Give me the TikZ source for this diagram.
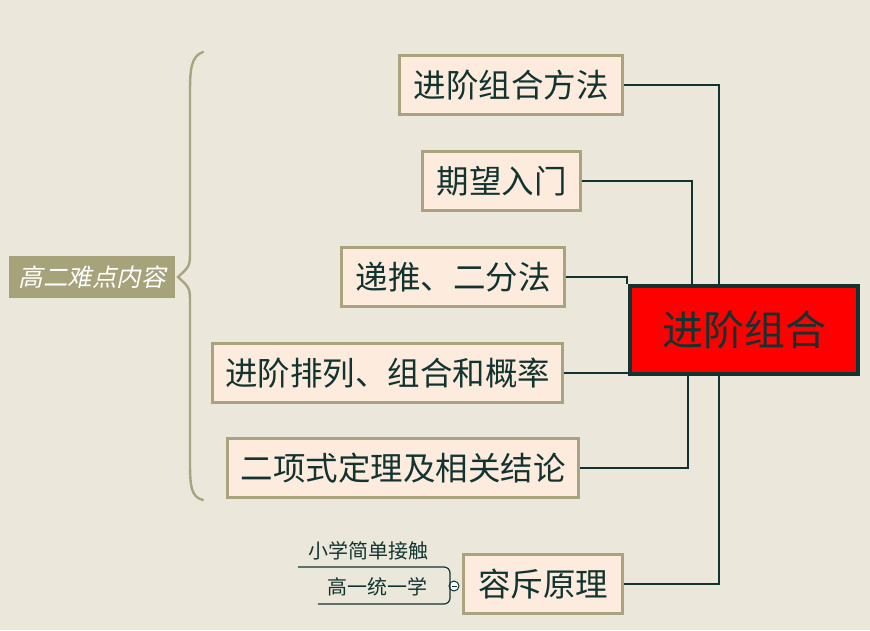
\documentclass[tikz,border=0pt]{standalone}
\usepackage{fontspec}
\newfontfamily\cjk{Noto Sans CJK SC}
\newfontfamily\cjkit[FakeSlant=0.22]{Noto Sans CJK SC}
\usetikzlibrary{calc,positioning}
\definecolor{paper}{HTML}{EBE8DB}
\definecolor{ink}{HTML}{123431}
\definecolor{tan}{HTML}{A9A47E}
\definecolor{peach}{HTML}{FDEBDD}
\definecolor{olive}{HTML}{A6A27A}

\begin{document}
\begin{tikzpicture}[x=1pt, y=-1pt,
  topic/.style={draw=tan, fill=peach, line width=3pt, text=ink, minimum height=59pt, inner sep=0pt, font=\cjk\fontsize{32.5}{32.5}\selectfont},
  root/.style={draw=ink, fill=red, line width=4pt, text=ink, minimum width=228pt, minimum height=88pt, inner sep=0pt, font=\cjk\fontsize{41}{41}\selectfont},
  link/.style={draw=ink, line width=2pt},
  note/.style={text=ink, inner sep=0pt, font=\cjk\fontsize{20}{20}\selectfont},
]
\fill[paper] (0,0) rectangle (870,630);
\useasboundingbox (0,0) rectangle (870,630);
% central topic and branches
\node[root] (root) at (744,330) {进阶组合};
\node[topic, minimum width=223pt] (method) at (511,85) {进阶组合方法};
\node[topic, minimum width=158pt] (expect) at (501.5,181) {期望入门};
\node[topic, minimum width=223pt] (recur) at (453,277) {递推、二分法};
\node[topic, minimum width=350pt] (perm) at (387.5,373) {进阶排列、组合和概率};
\node[topic, minimum width=351pt] (binom) at (403,468) {二项式定理及相关结论};
\node[topic, minimum width=159pt] (incl) at (543,584) {容斥原理};
\draw[link] (method.east) -| ($(root.north west)+(91,0)$);
\draw[link] (expect.east) -| ($(root.north west)+(64,0)$);
\draw[link] (recur.east) -| ($(root.north west)+(-1,0)$);
\draw[link] (perm.east) -- (perm.east -| root.west);
\draw[link] (binom.east) -| ($(root.south west)+(60,0)$);
\draw[link] (incl.east) -| ($(root.south west)+(91,0)$);
% summary brace
\node[fill=olive, text=white, minimum width=166pt, minimum height=42pt, inner sep=0pt, font=\cjkit\fontsize{24.5}{24.5}\selectfont] (summary) at (92,277) {高二难点内容};
\draw[tan, line width=2.4pt, line cap=round] (203,52) .. controls (191,56) and (190,70) .. (190,92) -- (190,250) .. controls (190,266) .. (178,277)
  .. controls (190,288) .. (190,304) -- (190,462) .. controls (190,486) and (191,497) .. (203,500);
% label on the last branch
\node[note] (hint) at (368,551) {小学简单接触};
\node[note] (grade) at (377,587) {高一统一学};
\node[circle, draw=ink, fill=white!85!paper, line width=1pt, minimum size=10pt, inner sep=0pt] (fold) at (454,586) {};
\draw[ink, line width=1pt] ($(fold.center)+(-2.5,0)$) -- ($(fold.center)+(2.5,0)$);
\draw[ink, line width=1.2pt, rounded corners=6pt] (298,567) -- (450,567) -- (450,604) -- (318,604);
\end{tikzpicture}
\end{document}
